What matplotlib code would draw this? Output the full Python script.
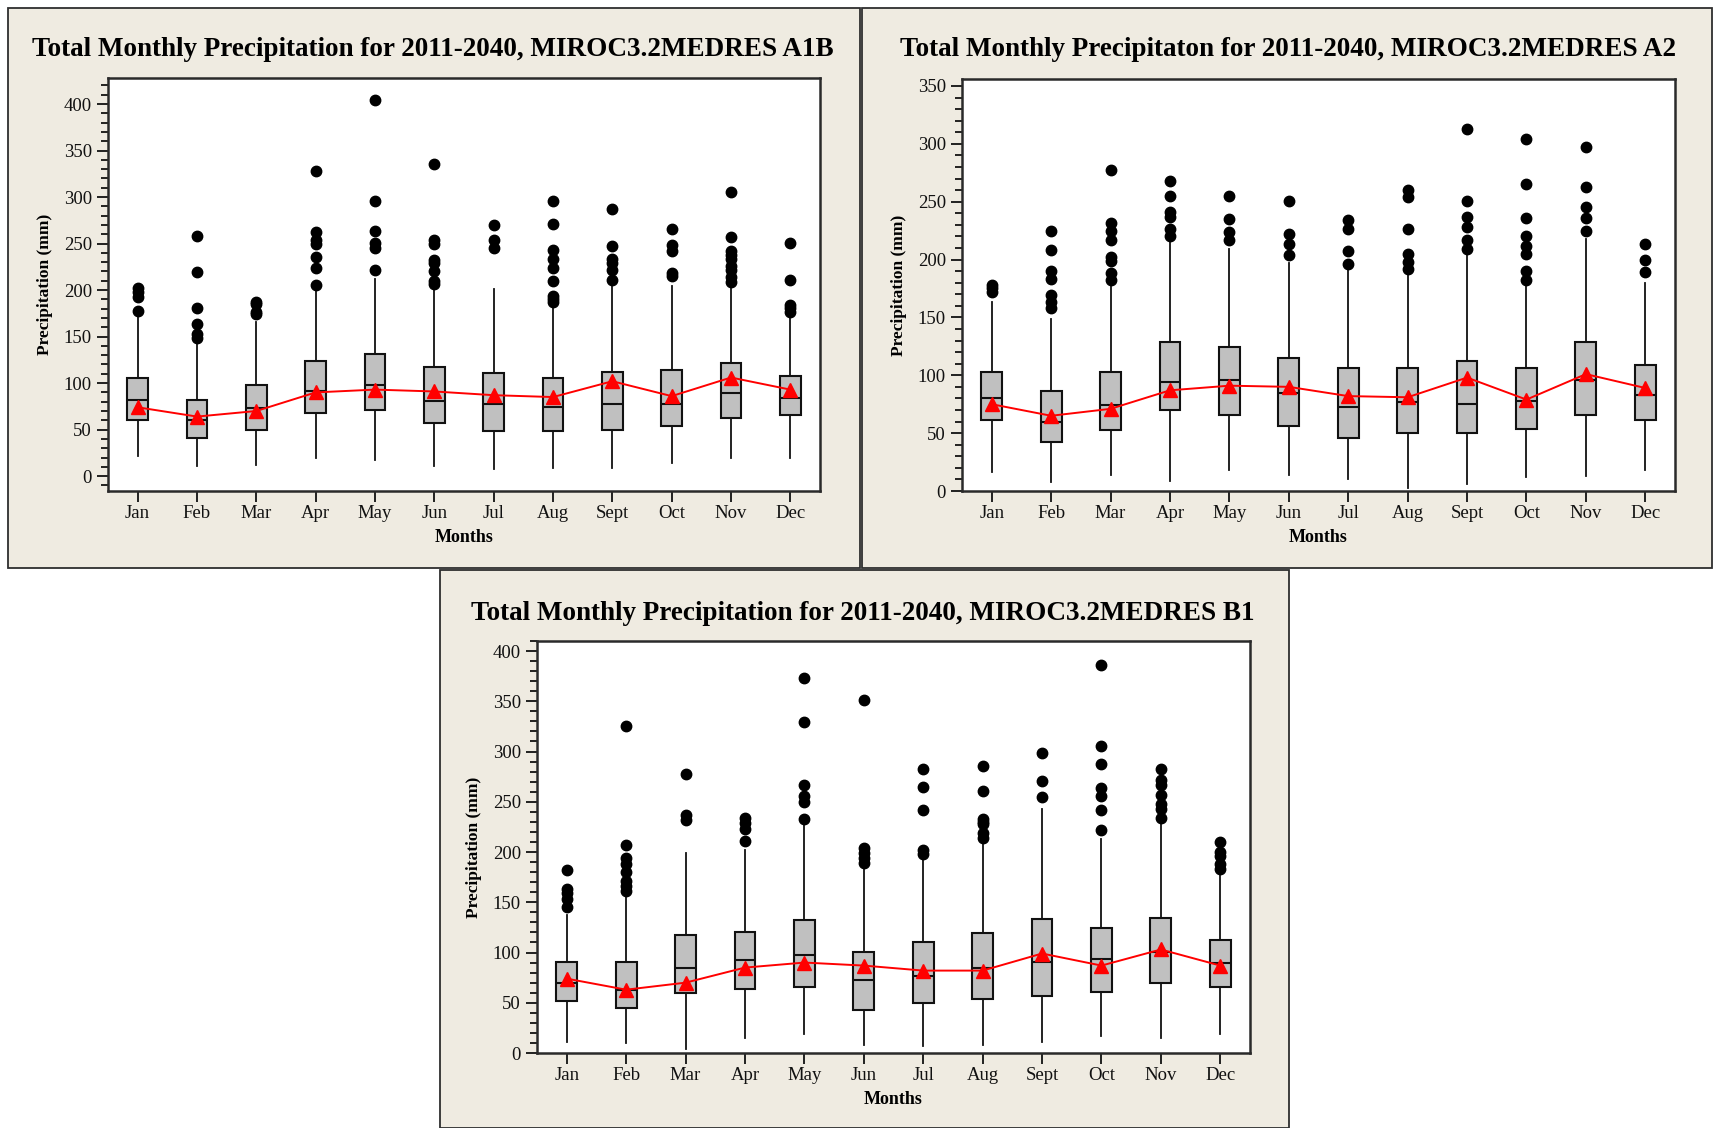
import matplotlib
matplotlib.use("Agg")
import matplotlib.pyplot as plt
from matplotlib.patches import Rectangle
from matplotlib.ticker import MultipleLocator

# ── Data ───────────────────────────────────────────────────────
months = ["Jan", "Feb", "Mar", "Apr", "May", "Jun",
          "Jul", "Aug", "Sept", "Oct", "Nov", "Dec"]

# A1B
a1b_lo   = [22, 11, 12, 19, 17, 11, 8, 9, 9, 14, 19, 19]
a1b_q1   = [60, 41, 50, 68, 71, 57, 48, 49, 50, 54, 63, 66]
a1b_med  = [82, 60, 73, 92, 98, 81, 77, 74, 77, 77, 89, 84]
a1b_q3   = [105, 82, 98, 124, 131, 117, 111, 105, 112, 114, 122, 108]
a1b_hi   = [171, 146, 166, 203, 212, 204, 201, 183, 204, 204, 207, 174]
a1b_mean = [74, 64, 70, 90, 93, 91, 87, 85, 102, 86, 106, 93]
a1b_out  = [
    [202, 198, 193, 178],
    [258, 219, 181, 164, 153, 149],
    [187, 185, 176, 174],
    [328, 262, 254, 250, 236, 224, 206],
    [404, 296, 263, 251, 245, 222],
    [336, 254, 250, 232, 229, 220, 210, 207],
    [270, 254, 245],
    [296, 271, 243, 233, 224, 210, 194, 190, 187],
    [287, 247, 233, 229, 222, 211],
    [266, 248, 242, 218, 215],
    [305, 257, 242, 238, 233, 226, 222, 214, 209],
    [251, 211, 184, 181, 176],
]

# A2
a2_lo   = [16, 8, 14, 9, 18, 14, 10, 3, 6, 12, 13, 18]
a2_q1   = [61, 42, 53, 70, 66, 56, 46, 50, 50, 54, 66, 61]
a2_med  = [80, 60, 74, 94, 96, 85, 73, 77, 75, 78, 96, 83]
a2_q3   = [103, 86, 103, 129, 124, 115, 106, 106, 112, 106, 129, 109]
a2_hi   = [163, 149, 178, 215, 209, 197, 195, 189, 204, 178, 218, 180]
a2_mean = [75, 65, 71, 87, 91, 90, 82, 81, 98, 79, 101, 89]
a2_out  = [
    [178, 175, 172],
    [225, 208, 190, 183, 169, 163, 158],
    [277, 232, 225, 217, 202, 199, 188, 182],
    [268, 255, 241, 237, 226, 220],
    [255, 235, 224, 217],
    [251, 222, 213, 204],
    [234, 226, 207, 196],
    [260, 254, 226, 205, 198, 192],
    [313, 251, 237, 228, 217, 209],
    [304, 265, 236, 220, 212, 205, 190, 182],
    [297, 263, 245, 236, 225],
    [213, 200, 189],
]

# B1
b1_lo   = [11, 10, 4, 15, 19, 8, 7, 8, 11, 17, 15, 19]
b1_q1   = [52, 45, 60, 64, 66, 43, 50, 54, 57, 61, 70, 66]
b1_med  = [70, 63, 85, 93, 98, 73, 77, 85, 91, 94, 101, 90]
b1_q3   = [91, 91, 117, 120, 132, 101, 110, 119, 133, 124, 134, 112]
b1_hi   = [137, 157, 199, 202, 227, 186, 196, 211, 243, 213, 229, 180]
b1_mean = [74, 63, 70, 85, 90, 87, 82, 82, 99, 87, 103, 87]
b1_out  = [
    [182, 163, 159, 153, 145],
    [325, 207, 194, 188, 180, 171, 166, 161],
    [278, 237, 232],
    [234, 229, 223, 211],
    [373, 329, 267, 256, 250, 233],
    [351, 204, 199, 194, 189],
    [283, 265, 242, 202, 198],
    [286, 261, 233, 230, 228, 219, 214],
    [299, 271, 255],
    [386, 306, 288, 264, 256, 242, 222],
    [283, 272, 267, 257, 248, 243, 234],
    [210, 200, 196, 188, 183],
]

W, H = 1713, 1128
BEIGE = "#EFEBE1"
SERIF = "Liberation Serif"


def build_stats(lo, q1, med, q3, hi, out):
    return [dict(whislo=a, q1=b, med=c, q3=d, whishi=e, fliers=f)
            for a, b, c, d, e, f in zip(lo, q1, med, q3, hi, out)]


def frac_box(x0, y0, x1, y1):
    # pixel box (top-left origin) -> figure fractions
    return [x0 / W, 1 - y1 / H, (x1 - x0) / W, (y1 - y0) / H]


def draw_panel(fig, panel_px, axes_px, title_xy, title, stats, means, ylim, ytop):
    px0, py0, px1, py1 = panel_px
    fig.add_artist(Rectangle((px0 / W, 1 - py1 / H), (px1 - px0) / W, (py1 - py0) / H,
                             transform=fig.transFigure, facecolor=BEIGE,
                             edgecolor="#2e2e2e", lw=1.3, zorder=-5))
    fig.text(title_xy[0] / W, 1 - title_xy[1] / H, title, ha="center", va="center",
             fontsize=19.5, fontweight="bold", family=SERIF)

    ax = fig.add_axes(frac_box(*axes_px))
    pos = list(range(1, 13))
    ax.bxp(stats, positions=pos, widths=0.35, showfliers=True, showcaps=False,
           patch_artist=True,
           boxprops=dict(facecolor="#C0C0C0", edgecolor="#111111", lw=1.5),
           medianprops=dict(color="#111111", lw=1.5),
           whiskerprops=dict(color="#111111", lw=1.3),
           flierprops=dict(marker="o", markerfacecolor="black",
                           markeredgecolor="black", markersize=7.5))
    ax.plot(pos, means, color="red", lw=1.4, marker="^", markersize=10,
            markerfacecolor="red", markeredgecolor="red", zorder=5)

    ax.set_xlim(0.5, 12.5)
    ax.set_ylim(*ylim)
    ax.set_xticks(pos)
    ax.set_xticklabels(months)
    ax.yaxis.set_major_locator(MultipleLocator(50))
    ax.yaxis.set_minor_locator(MultipleLocator(10))
    ax.set_yticks([v for v in range(0, ytop + 1, 50)])
    ax.tick_params(axis="both", direction="out", length=8, width=1.3,
                   labelsize=13.5, colors="#111111")
    ax.tick_params(axis="y", which="minor", direction="out", length=5, width=1.2)
    ax.tick_params(axis="x", pad=2)
    for lab in ax.get_xticklabels() + ax.get_yticklabels():
        lab.set_family(SERIF)
    for sp in ax.spines.values():
        sp.set_linewidth(1.8)
        sp.set_color("#2a2a2a")
    ax.set_ylabel("Precipitation (mm)", fontsize=12.5, fontweight="bold",
                  family=SERIF, labelpad=8)
    ax.set_xlabel("Months", fontsize=13, fontweight="bold", family=SERIF, labelpad=5)
    return ax


fig = plt.figure(figsize=(W / 100, H / 100), dpi=100)
fig.patch.set_facecolor("white")

draw_panel(fig, (8, 8, 860, 568), (108, 78, 820, 491), (433, 50),
           "Total Monthly Precipitation for 2011-2040, MIROC3.2MEDRES A1B",
           build_stats(a1b_lo, a1b_q1, a1b_med, a1b_q3, a1b_hi, a1b_out),
           a1b_mean, (-16, 428), 400)

draw_panel(fig, (862, 8, 1712, 568), (962, 79, 1675, 491), (1288, 50),
           "Total Monthly Precipitaton for 2011-2040, MIROC3.2MEDRES A2",
           build_stats(a2_lo, a2_q1, a2_med, a2_q3, a2_hi, a2_out),
           a2_mean, (0, 356), 350)

draw_panel(fig, (440, 570, 1289, 1128), (537, 641, 1250, 1053), (863, 613),
           "Total Monthly Precipitation for 2011-2040, MIROC3.2MEDRES B1",
           build_stats(b1_lo, b1_q1, b1_med, b1_q3, b1_hi, b1_out),
           b1_mean, (0, 410), 400)

fig.savefig("out.png", dpi=100, facecolor="white")
